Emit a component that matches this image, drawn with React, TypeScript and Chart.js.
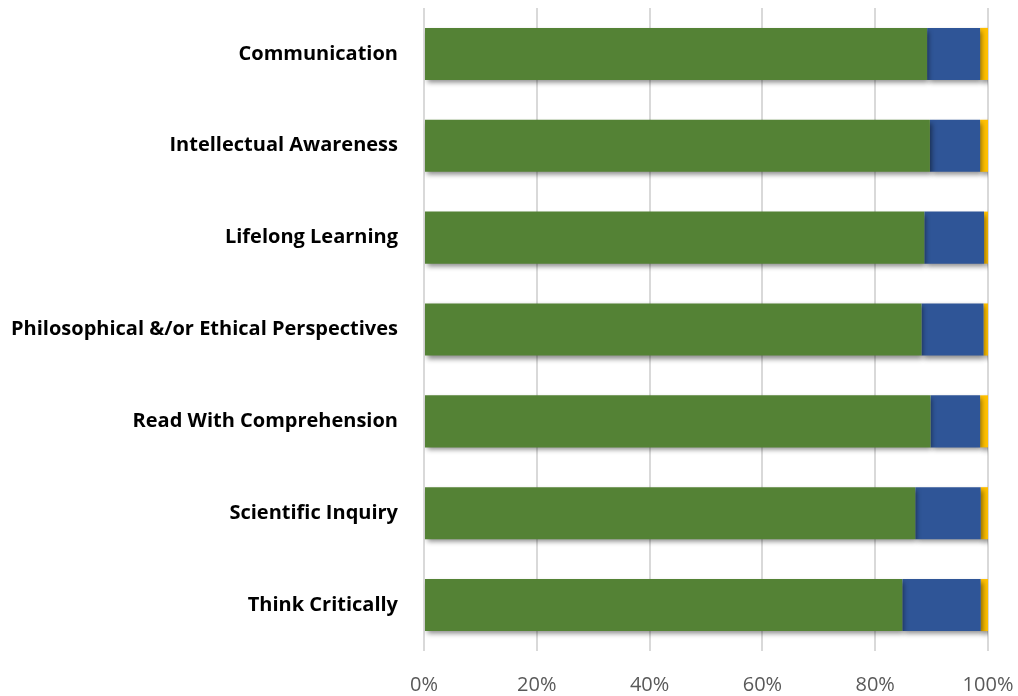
import React, { useEffect, useRef } from "react";
import { Chart, registerables } from "chart.js";

Chart.register(...registerables);

const categories = [
  "Communication",
  "Intellectual Awareness",
  "Lifelong Learning",
  "Philosophical &/or Ethical Perspectives",
  "Read With Comprehension",
  "Scientific Inquiry",
  "Think Critically",
];
const greenValues = [89.2, 89.7, 88.7, 88.2, 89.8, 87.1, 84.8];
const blueValues = [9.4, 8.9, 10.6, 11.0, 8.8, 11.6, 13.9];
const yellowValues = [1.4, 1.4, 0.7, 0.8, 1.4, 1.3, 1.3];
const seriesNames = ["Green", "Blue", "Yellow"];
const xTicks = [0, 20, 40, 60, 80, 100];

const shadowPlugin = {
  id: "barShadow",
  beforeDatasetDraw(chart: any) {
    const ctx = chart.ctx;
    ctx.save();
    ctx.shadowColor = "rgba(0,0,0,0.45)";
    ctx.shadowBlur = 5;
    ctx.shadowOffsetX = 2;
    ctx.shadowOffsetY = 3;
  },
  afterDatasetDraw(chart: any) {
    chart.ctx.restore();
  },
};

export default function App() {
  const ref = useRef<HTMLCanvasElement | null>(null);
  useEffect(() => {
    if (!ref.current) return;
    const chart = new Chart(ref.current, {
      type: "bar",
      data: {
        labels: categories,
        datasets: [
          { label: seriesNames[0], data: greenValues, backgroundColor: "#548235" },
          { label: seriesNames[1], data: blueValues, backgroundColor: "#2F5597" },
          { label: seriesNames[2], data: yellowValues, backgroundColor: "#FFC000" },
        ],
      },
      options: {
        indexAxis: "y",
        animation: false,
        responsive: false,
        maintainAspectRatio: false,
        layout: { padding: { top: 8, right: 30, left: 0, bottom: 0 } },
        datasets: {
          bar: { categoryPercentage: 1, barPercentage: 0.567, borderWidth: 0 },
        },
        plugins: {
          legend: { display: false },
          tooltip: { enabled: false },
        },
        scales: {
          x: {
            stacked: true,
            min: 0,
            max: 100,
            afterBuildTicks(scale: any) {
              scale.ticks = xTicks.map((v) => ({ value: v }));
            },
            afterFit(scale: any) {
              scale.height = 45;
              scale.paddingLeft = 0;
              scale.paddingRight = 0;
              scale.paddingTop = 0;
              scale.paddingBottom = 0;
            },
            ticks: {
              callback: (v: any) => v + "%",
              color: "#595959",
              font: { family: "Open Sans", size: 20 },
              padding: 22,
              maxRotation: 0,
            },
            grid: { color: "#d9d9d9", lineWidth: 2, drawTicks: false },
            border: { display: false },
          },
          y: {
            stacked: true,
            afterFit(scale: any) {
              scale.width = 424;
              scale.paddingLeft = 0;
              scale.paddingRight = 0;
              scale.paddingTop = 0;
              scale.paddingBottom = 0;
            },
            ticks: {
              color: "#000000",
              font: { family: "Open Sans", size: 20, weight: "bold" },
              padding: 18,
            },
            grid: { display: false },
            border: { display: false },
          },
        },
      },
      plugins: [shadowPlugin],
    });
    return () => chart.destroy();
  }, []);
  return (
    <div style={{ position: "fixed", left: 0, top: 0, width: 1018, height: 696, background: "#fff" }}>
      <canvas ref={ref} width={1018} height={696} style={{ display: "block" }} />
    </div>
  );
}
